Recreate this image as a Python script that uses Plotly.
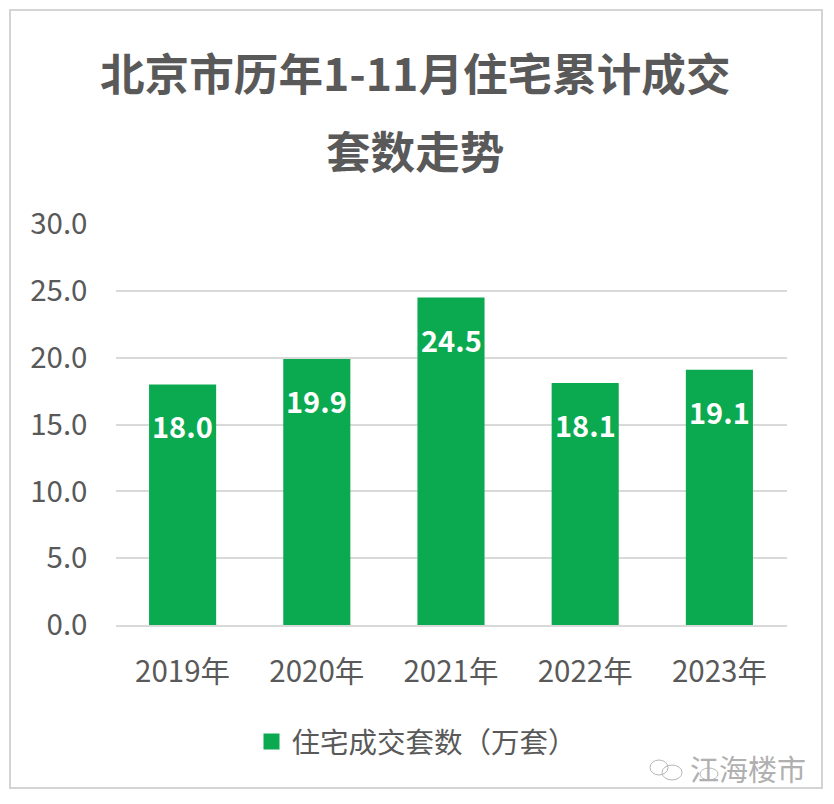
import plotly.graph_objects as go

years = ['2019年', '2020年', '2021年', '2022年', '2023年']
deals = [18.0, 19.9, 24.5, 18.1, 19.1]
y_ticks = [0, 5, 10, 15, 20, 25, 30]
title_lines = ['北京市历年1-11月住宅累计成交', '套数走势']
series_name = '住宅成交套数（万套）'
watermark = '江海楼市'

FONT = 'Noto Sans CJK SC'
GREEN = '#0BAA50'
GREY = '#595959'
GRID = '#D9D9D9'

# the page body has an 8px margin, so the figure is drawn smaller to fit the window
W, H = 818, 788
# fixed margins, big enough that the legend does not push the plot area around
M_TOP, M_BOTTOM = 40, 110


def px(x):
    return (x - 8) / W


def py(y):
    return 1 - (y - 8 - M_TOP) / (H - M_TOP - M_BOTTOM)


fig = go.Figure()

fig.add_trace(go.Bar(
    x=years,
    y=deals,
    width=0.5,
    marker=dict(color=GREEN, line=dict(width=0)),
    showlegend=False,
))

# legend entry only, gives a bigger swatch than the bar one
fig.add_trace(go.Scatter(
    x=[None],
    y=[None],
    mode='markers',
    name=series_name,
    marker=dict(color=GREEN, symbol='square', size=16),
))

annotations = []

for year, value in zip(years, deals):
    annotations.append(dict(
        x=year,
        y=value,
        yshift=-41,
        text=f'<b>{value:.1f}</b>',
        showarrow=False,
        font=dict(family=FONT, size=29, color='white'),
    ))

# title lines are set apart by hand, the line gap is wider than plotly's
for line, y in zip(title_lines, [72, 149]):
    annotations.append(dict(
        xref='paper',
        yref='paper',
        x=px(415),
        y=py(y),
        xanchor='center',
        yanchor='middle',
        text=f'<b>{line}</b>',
        showarrow=False,
        font=dict(family=FONT, size=44.6, color=GREY),
    ))

annotations.append(dict(
    xref='paper',
    yref='paper',
    x=px(748),
    y=py(768),
    xanchor='center',
    yanchor='middle',
    text=watermark,
    showarrow=False,
    font=dict(family=FONT, size=29, color='#B0B0B0'),
))

shapes = [dict(
    type='rect',
    xref='paper',
    yref='paper',
    x0=px(10),
    x1=px(822),
    y0=py(788),
    y1=py(10),
    line=dict(color='#D4D4D4', width=2),
)]

# wechat logo next to the watermark
for x0, x1, y0, y1 in [(650, 668, 760, 775), (662, 682, 765, 780), (700, 718, 768, 780)]:
    shapes.append(dict(
        type='circle',
        xref='paper',
        yref='paper',
        x0=px(x0),
        x1=px(x1),
        y0=py(y1),
        y1=py(y0),
        line=dict(color='#B5B5B5', width=1),
    ))

fig.update_layout(
    width=W,
    height=H,
    paper_bgcolor='white',
    plot_bgcolor='white',
    font=dict(family=FONT, color=GREY),
    margin=dict(l=0, r=0, t=M_TOP, b=M_BOTTOM),
    legend=dict(
        orientation='h',
        x=px(417),
        xanchor='center',
        y=py(742),
        yanchor='middle',
        font=dict(family=FONT, size=28.5, color=GREY),
        itemsizing='trace',
    ),
    xaxis=dict(
        domain=[px(115.5), px(786.5)],
        showgrid=False,
        showline=True,
        linecolor=GRID,
        linewidth=2,
        ticks='',
        tickfont=dict(family=FONT, size=29.5, color=GREY),
        ticklabelstandoff=20,
    ),
    yaxis=dict(
        domain=[py(625), py(224)],
        range=[0, 30],
        tickvals=y_ticks,
        tickformat='.1f',
        showgrid=True,
        gridcolor=GRID,
        gridwidth=1.5,
        zeroline=False,
        ticks='',
        tickfont=dict(family=FONT, size=29.5, color=GREY),
        ticklabelstandoff=27,
    ),
    showlegend=True,
    shapes=shapes,
    annotations=annotations,
)

fig.write_html("out.html")
